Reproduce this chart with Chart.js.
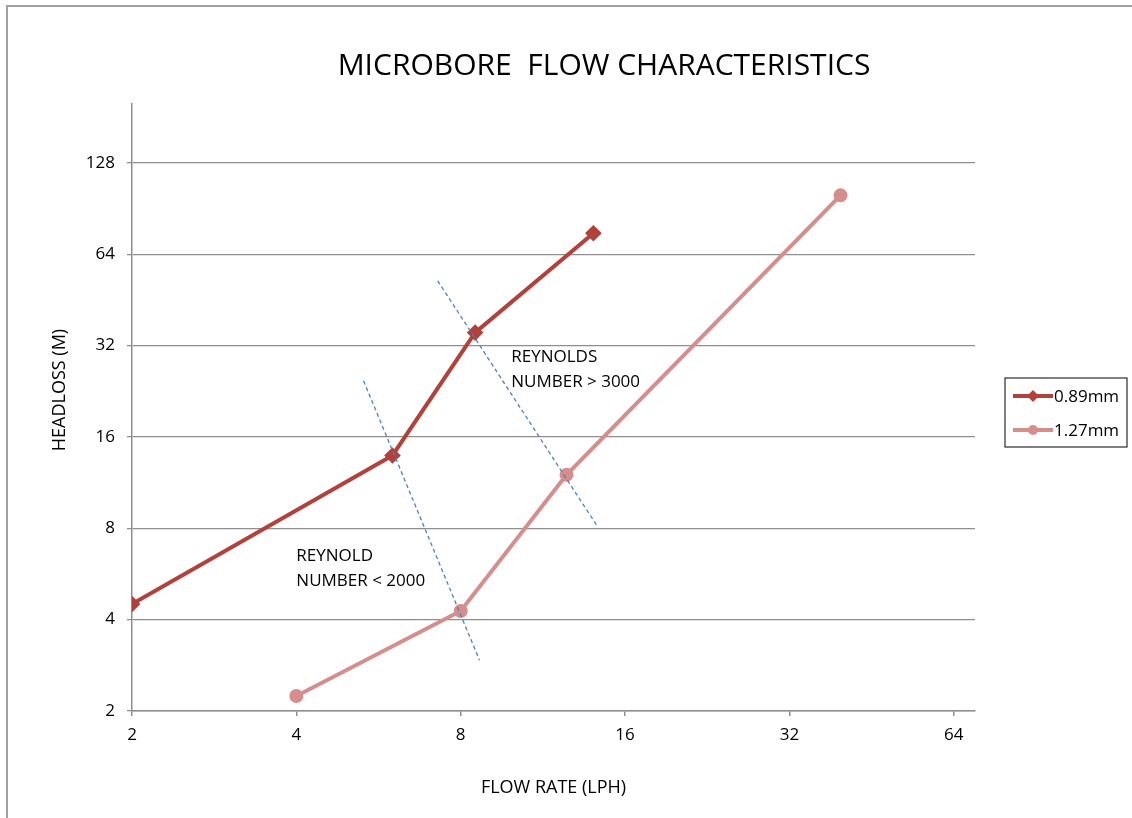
<!DOCTYPE html>
<html lang="en">
<head>
  <meta charset="UTF-8" />
  <title>Microbore Flow Characteristics</title>
  <script src="https://cdn.jsdelivr.net/npm/chart.js"></script>
  <style>
    body {
      margin: 0;
      background: #ffffff;
    }
    #wrap {
      width: 1132px;
      height: 818px;
    }
  </style>
</head>
<body>

  <div id="wrap">
    <canvas id="flowChart" width="1132" height="818"></canvas>
  </div>

  <script>
    // data (flow rate LPH, headloss m)
    const seriesNames = ["0.89mm", "1.27mm"];
    const flow089 = [2, 6.0, 8.5, 14.0];
    const head089 = [4.5, 13.9, 35.3, 75];
    const flow127 = [4, 8, 12.5, 39.7];
    const head127 = [2.24, 4.27, 12.0, 100];

    // dashed Reynolds boundary lines
    const laminarFlow = [5.31, 8.66];
    const laminarHead = [24.5, 2.94];
    const turbFlow = [7.26, 14.2];
    const turbHead = [52.3, 8.18];

    // annotation text and anchor (data coords)
    const noteText = [["REYNOLD", "NUMBER < 2000"], ["REYNOLDS", "NUMBER > 3000"]];
    const noteFlow = [4.0, 9.9];
    const noteHead = [6.47, 29.4];

    const xTicks = [2, 4, 8, 16, 32, 64];
    const yTicks = [2, 4, 8, 16, 32, 64, 128];

    const FONT = "'Open Sans', sans-serif";
    const dark = "#b3403b";
    const pink = "#d68e8c";
    const axisGrey = "#8e8e8e";

    function pts(xs, ys) {
      return xs.map((x, i) => ({ x: x, y: ys[i] }));
    }

    const framePlugin = {
      id: "frameAndText",
      beforeDraw(chart) {
        const ctx = chart.ctx;
        ctx.save();
        ctx.fillStyle = "#fff";
        ctx.fillRect(0, 0, chart.width, chart.height);
        ctx.strokeStyle = "#a0a0a0";
        ctx.lineWidth = 2;
        ctx.strokeRect(7, 6, chart.width + 50, chart.height + 50);
        ctx.restore();
      },
      afterDraw(chart) {
        const ctx = chart.ctx;
        const xs = chart.scales.x, ys = chart.scales.y;
        ctx.save();

        // title
        ctx.fillStyle = "#000";
        ctx.font = "30px " + FONT;
        ctx.textAlign = "center";
        ctx.textBaseline = "middle";
        ctx.fillText("MICROBORE  FLOW CHARACTERISTICS", 604, 66);

        // y axis title (sits a bit above the axis middle in the original)
        ctx.save();
        ctx.translate(60, 390);
        ctx.rotate(-Math.PI / 2);
        ctx.font = "18px " + FONT;
        ctx.fillText("HEADLOSS (M)", 0, 0);
        ctx.restore();

        // notes
        ctx.font = "17px " + FONT;
        ctx.textAlign = "left";
        noteText.forEach((lines, i) => {
          const px = xs.getPixelForValue(noteFlow[i]);
          const py = ys.getPixelForValue(noteHead[i]);
          lines.forEach((t, j) => ctx.fillText(t, px, py + j * 25));
        });

        // legend box
        const lx = 1005, ly = 378, lw = 122, lh = 69;
        ctx.strokeStyle = "#2b2b2b";
        ctx.lineWidth = 1.2;
        ctx.strokeRect(lx, ly, lw, lh);
        const colors = [dark, pink];
        ctx.font = "17px " + FONT;
        seriesNames.forEach((name, i) => {
          const cy = ly + 18 + i * 34;
          ctx.strokeStyle = colors[i];
          ctx.lineWidth = 4;
          ctx.beginPath();
          ctx.moveTo(1013, cy);
          ctx.lineTo(1053, cy);
          ctx.stroke();
          ctx.fillStyle = colors[i];
          ctx.beginPath();
          if (i === 0) {
            ctx.moveTo(1033, cy - 6);
            ctx.lineTo(1039, cy);
            ctx.lineTo(1033, cy + 6);
            ctx.lineTo(1027, cy);
            ctx.closePath();
          } else {
            ctx.arc(1033, cy, 5, 0, Math.PI * 2);
          }
          ctx.fill();
          ctx.fillStyle = "#000";
          ctx.textAlign = "left";
          ctx.fillText(name, 1054, cy + 1);
        });
        ctx.restore();
      }
    };

    const dashStyle = {
      showLine: true,
      borderColor: "#4f81bd",
      borderWidth: 1.3,
      borderDash: [4, 3],
      pointRadius: 0,
      fill: false
    };

    new Chart(document.getElementById("flowChart"), {
      type: "scatter",
      data: {
        datasets: [
          Object.assign({ label: "laminar", data: pts(laminarFlow, laminarHead) }, dashStyle),
          Object.assign({ label: "turbulent", data: pts(turbFlow, turbHead) }, dashStyle),
          {
            label: seriesNames[0],
            data: pts(flow089, head089),
            showLine: true,
            borderColor: dark,
            backgroundColor: dark,
            borderWidth: 4,
            pointStyle: "rectRot",
            pointRadius: 5.5,
            tension: 0
          },
          {
            label: seriesNames[1],
            data: pts(flow127, head127),
            showLine: true,
            borderColor: pink,
            backgroundColor: pink,
            borderWidth: 4,
            pointStyle: "circle",
            pointRadius: 5,
            tension: 0
          }
        ]
      },
      options: {
        responsive: false,
        animation: false,
        layout: { padding: { top: 104, right: 157, left: 0, bottom: 0 } },
        plugins: {
          legend: { display: false },
          title: { display: false },
          tooltip: { enabled: false }
        },
        scales: {
          x: {
            type: "logarithmic",
            min: 2,
            max: 70,
            afterBuildTicks: s => { s.ticks = xTicks.map(v => ({ value: v })); },
            afterFit: s => { s.height = 107; },
            ticks: {
              callback: v => String(v),
              color: "#000",
              font: { family: FONT, size: 17 },
              padding: 9,
              maxRotation: 0
            },
            grid: { drawOnChartArea: false, drawTicks: true, tickLength: 5, color: axisGrey, lineWidth: 1.5 },
            border: { color: axisGrey, width: 1.5 },
            title: {
              display: true,
              text: "FLOW RATE (LPH)",
              color: "#000",
              font: { family: FONT, size: 18 },
              padding: { top: 0, bottom: 19 }
            }
          },
          y: {
            type: "logarithmic",
            min: 2,
            max: 200,
            afterBuildTicks: s => { s.ticks = yTicks.map(v => ({ value: v })); },
            afterFit: s => { s.width = 132; },
            ticks: {
              callback: v => String(v),
              color: "#000",
              font: { family: FONT, size: 17 },
              padding: 12
            },
            grid: { drawOnChartArea: true, drawTicks: true, tickLength: 5, color: axisGrey, lineWidth: 1.3 },
            border: { color: axisGrey, width: 1.5 }
          }
        }
      },
      plugins: [framePlugin]
    });
  </script>

</body>
</html>
